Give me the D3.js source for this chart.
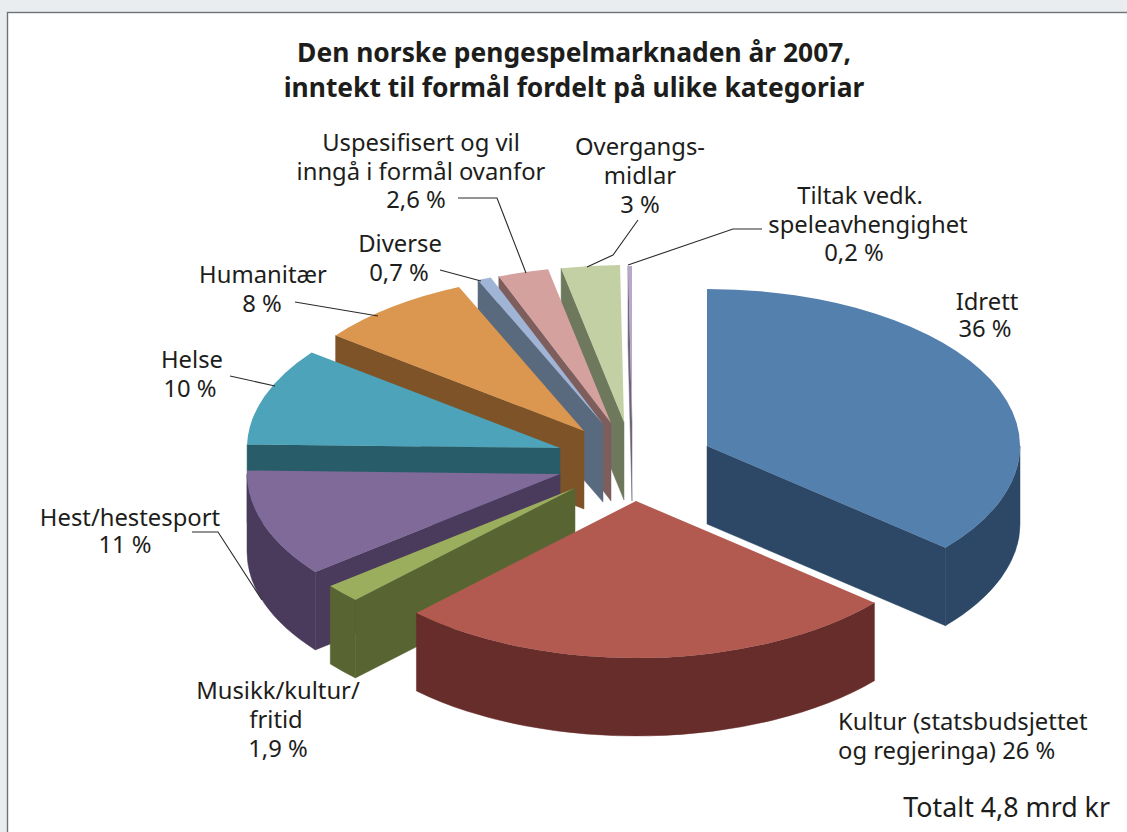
<!DOCTYPE html>
<html><head><meta charset="utf-8">
<script src="https://cdn.jsdelivr.net/npm/d3@7/dist/d3.min.js"></script>
<style>html,body{margin:0;padding:0;background:#e9edf0;overflow:hidden}svg{display:block}text{font-family:"Noto Sans","Open Sans",sans-serif;fill:#1d1d1b}</style>
</head><body><svg id="c" width="1127" height="832"></svg>
<script>
// Data
const categories = ["Idrett","Kultur (statsbudsjettet og regjeringa)","Musikk/kultur/fritid","Hest/hestesport","Helse","Humanitær","Diverse","Uspesifisert og vil inngå i formål ovanfor","Overgangsmidlar","Tiltak vedk. speleavhengighet"];
const shares = [36,26,1.9,11,10,8,0.7,2.6,3,0.2];
const titleLines = ["Den norske pengespelmarknaden år 2007,","inntekt til formål fordelt på ulike kategoriar"];
const totalLabel = "Totalt 4,8 mrd kr";

// Styling and layout
const topColors  = ["#5480ae","#b25a50","#9aae5e","#806a9a","#4da3b9","#db964f","#a0b5d6","#d4a19e","#c2d0a4","#b8a9cc"];
const sideColors = ["#2c4866","#672d2b","#586533","#4a3a5c","#275c68","#7e5327","#5a6a7e","#7d5e5c","#6e785c","#6e6478"];
const apexX = [707,636,575,560,560,584,603,611,624,632];
const apexY = [446,501,488,474,448,431,424,423,422,423];
const paintOrder = [9,8,7,6,5,4,3,2,1,0];
const RX = 313, RY = 157, DEPTH = 78;
const labels = [
 {a:"middle",x:987,y:310,t:"Idrett"},{a:"middle",x:985,y:337,t:"36 %"},
 {a:"start",x:838,y:730,t:"Kultur (statsbudsjettet"},{a:"start",x:838,y:759,t:"og regjeringa) 26 %"},
 {a:"middle",x:278,y:699,t:"Musikk/kultur/"},{a:"middle",x:276,y:728,t:"fritid"},{a:"middle",x:278,y:757,t:"1,9 %"},
 {a:"middle",x:130,y:526,t:"Hest/hestesport"},{a:"middle",x:125,y:553,t:"11 %"},
 {a:"middle",x:192,y:368,t:"Helse"},{a:"middle",x:190,y:397,t:"10 %"},
 {a:"middle",x:263,y:283,t:"Humanitær"},{a:"middle",x:262,y:312,t:"8 %"},
 {a:"middle",x:400,y:252,t:"Diverse"},{a:"middle",x:399,y:281,t:"0,7 %"},
 {a:"middle",x:421,y:151,t:"Uspesifisert og vil"},{a:"middle",x:421,y:180,t:"inngå i formål ovanfor"},{a:"middle",x:416,y:208,t:"2,6 %"},
 {a:"middle",x:640,y:155,t:"Overgangs-"},{a:"middle",x:640,y:184,t:"midlar"},{a:"middle",x:640,y:213,t:"3 %"},
 {a:"middle",x:860,y:204,t:"Tiltak vedk."},{a:"middle",x:868,y:233,t:"speleavhengighet"},{a:"middle",x:854,y:261,t:"0,2 %"}
];
const leaders = [
 [[458,198],[497,198],[526,273]],
 [[587,267],[613,255],[638,220]],
 [[628,265],[733,229],[762,229]],
 [[440,270],[481,281]],
 [[295,302],[378,316]],
 [[230,376],[275,386]],
 [[192,532],[218,532],[262,600]]
];

const svg = d3.select("#c");
svg.append("rect").attr("x",7.5).attr("y",12.5).attr("width",1130).attr("height",830)
   .attr("fill","#fff").attr("stroke","#6f7375").attr("stroke-width",1.4);

const pie = d3.pie().sort(null).value(d=>d);
const arcs = pie(shares);
const arcGen = d3.arc().innerRadius(0).outerRadius(RX);
const pt = (a,i,dy=0)=>[apexX[i]+RX*Math.sin(a), apexY[i]-RY*Math.cos(a)+dy];
const line = d3.line();
const g = svg.append("g");

paintOrder.forEach(i=>{
  const s = arcs[i], a0 = s.startAngle, a1 = s.endAngle;
  const slice = g.append("g");
  const side = sideColors[i];
  const wall = d => slice.append("path").attr("d",d).attr("fill",side).attr("stroke",side).attr("stroke-width",.5);
  const ax=apexX[i], ay=apexY[i];
  // radial walls facing the viewer
  if (Math.sin(a0) < 0) { const p=pt(a0,i); wall(line([[ax,ay],p,[p[0],p[1]+DEPTH],[ax,ay+DEPTH]])+"Z"); }
  if (Math.sin(a1) > 0) { const p=pt(a1,i); wall(line([[ax,ay],p,[p[0],p[1]+DEPTH],[ax,ay+DEPTH]])+"Z"); }
  // outer rim, front half only
  const b0 = Math.max(a0, Math.PI/2), b1 = Math.min(a1, Math.PI*1.5);
  if (b1 > b0) {
    const p=pt(b0,i), q=pt(b1,i);
    const large = (b1-b0) > Math.PI ? 1 : 0;
    wall(`M${p}A${RX},${RY} 0 ${large} 1 ${q}L${q[0]},${q[1]+DEPTH}A${RX},${RY} 0 ${large} 0 ${p[0]},${p[1]+DEPTH}Z`);
  }
  // top face
  slice.append("path").attr("d",arcGen(s))
    .attr("transform",`translate(${ax},${ay}) scale(1,${RY/RX})`)
    .attr("fill",topColors[i]);
});

svg.append("g").selectAll("path").data(leaders).join("path")
  .attr("d",d=>line(d)).attr("fill","none").attr("stroke","#2b2b2b").attr("stroke-width",1.1);

svg.append("g").selectAll("text").data(titleLines).join("text")
  .attr("x",574).attr("y",(d,i)=>62+i*35).attr("text-anchor","middle")
  .attr("font-size",26.4).attr("font-weight",700).text(d=>d);

svg.append("g").selectAll("text").data(labels).join("text")
  .attr("x",d=>d.x).attr("y",d=>d.y).attr("text-anchor",d=>d.a)
  .attr("font-size",23.8).text(d=>d.t);

svg.append("text").attr("x",1110).attr("y",817).attr("text-anchor","end")
  .attr("font-size",26.8).text(totalLabel);
</script></body></html>
